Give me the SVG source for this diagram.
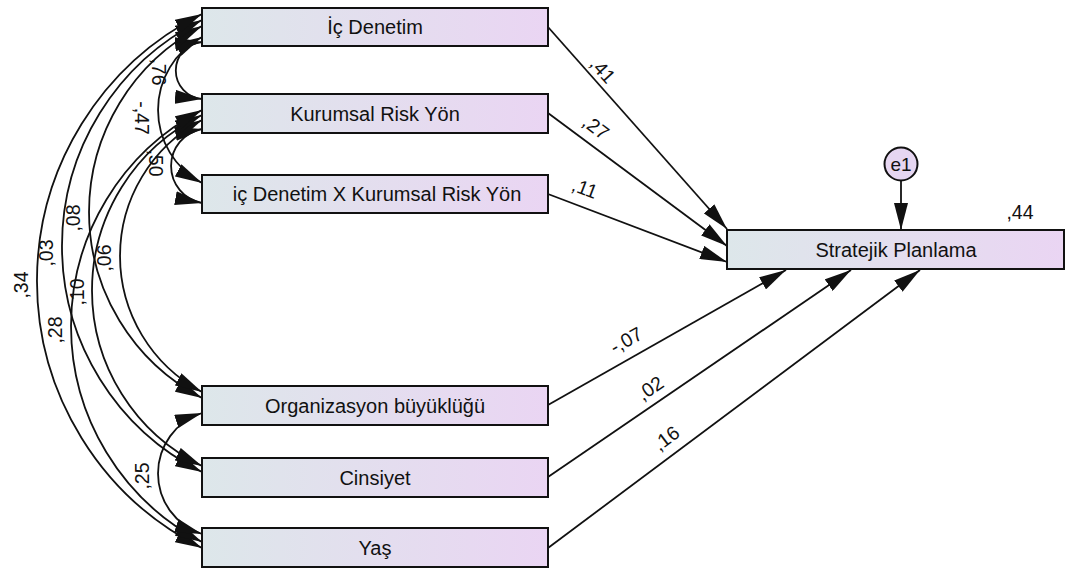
<svg xmlns="http://www.w3.org/2000/svg" width="1068" height="574" viewBox="0 0 1068 574">
  <style>
    .box { stroke: #111; stroke-width: 2; fill: url(#boxfill); }
    .lbl { font-family: "Liberation Sans", Arial, sans-serif; font-size: 20px; fill: #111; text-anchor: middle; }
    .coef { font-family: "Liberation Sans", Arial, sans-serif; font-size: 19.5px; fill: #111; text-anchor: middle; }
    .path { stroke: #111; stroke-width: 1.8; fill: none; marker-end: url(#ah); }
    .cov { stroke: #111; stroke-width: 1.8; fill: none; marker-start: url(#ah); marker-end: url(#ah); }
  </style>
  <defs>
    <linearGradient id="boxfill" x1="0" y1="0" x2="1" y2="0">
      <stop offset="0" stop-color="#dde7ea"/>
      <stop offset="1" stop-color="#ead5f3"/>
    </linearGradient>
    <marker id="ah" viewBox="0 0 27 14" markerWidth="27" markerHeight="14" refX="27" refY="7" orient="auto-start-reverse" markerUnits="userSpaceOnUse">
      <path d="M0,0 L27,7 L0,14 z" fill="#111"/>
    </marker>
  </defs>

  <rect width="1068" height="574" fill="#fff"/>

  <!-- connectors: regression paths and covariance arcs -->
  <g id="connectors">
    <line class="path" x1="548" y1="27" x2="727" y2="229"/>
    <line class="path" x1="548" y1="113" x2="727" y2="246"/>
    <line class="path" x1="548" y1="194" x2="727" y2="262"/>
    <line class="path" x1="548" y1="405" x2="786" y2="270"/>
    <line class="path" x1="548" y1="477" x2="851" y2="270"/>
    <line class="path" x1="548" y1="548" x2="920" y2="270"/>
    <line class="path" x1="901" y1="181" x2="901" y2="230"/>

    <path class="cov" d="M202,42 A28.6,28.6 0 0 0 202,99"/>
    <path class="cov" d="M202,37 A82.6,82.6 0 0 0 202,183"/>
    <path class="cov" d="M202,129 A37.6,37.6 0 0 0 202,203"/>
    <path class="cov" d="M202,26 A209.6,209.6 0 0 0 202,398"/>
    <path class="cov" d="M202,20 A252.4,252.4 0 0 0 202,472"/>
    <path class="cov" d="M202,14 A298.5,298.5 0 0 0 202,548"/>
    <path class="cov" d="M202,120 A153.8,153.8 0 0 0 202,392"/>
    <path class="cov" d="M202,115 A195,195 0 0 0 202,466"/>
    <path class="cov" d="M202,110 A243.6,243.6 0 0 0 202,542"/>
    <path class="cov" d="M202,413 A63.6,63.6 0 0 0 202,534"/>

    <!-- path coefficients -->
    <text class="coef" transform="translate(603,70) rotate(48)" y="7">,41</text>
    <text class="coef" transform="translate(596,127) rotate(37)" y="7">,27</text>
    <text class="coef" transform="translate(585,188) rotate(21)" y="7">,11</text>
    <text class="coef" transform="translate(626,340) rotate(-29.5)" y="7">-,07</text>
    <text class="coef" transform="translate(650,388) rotate(-34)" y="7">,02</text>
    <text class="coef" transform="translate(666,438) rotate(-37)" y="7">,16</text>

    <!-- covariance coefficients -->
    <text class="coef" transform="translate(159,72) rotate(90)" y="7">,76</text>
    <text class="coef" transform="translate(142,118) rotate(90)" y="7">-,47</text>
    <text class="coef" transform="translate(156,163) rotate(90)" y="7">,50</text>
    <text class="coef" transform="translate(21,285) rotate(-90)" y="7">,34</text>
    <text class="coef" transform="translate(46,253) rotate(-90)" y="7">,03</text>
    <text class="coef" transform="translate(73,218) rotate(-90)" y="7">,08</text>
    <text class="coef" transform="translate(55,330) rotate(-90)" y="7">,28</text>
    <text class="coef" transform="translate(77,292) rotate(-90)" y="7">,10</text>
    <text class="coef" transform="translate(104,258) rotate(-90)" y="7">,06</text>
    <text class="coef" transform="translate(142,476) rotate(-90)" y="7">,25</text>
  </g>

  <g id="ic-denetim">
    <rect class="box" x="202" y="8" width="346" height="38"/>
    <text class="lbl" x="375" y="34">İç Denetim</text>
  </g>
  <g id="kurumsal-risk">
    <rect class="box" x="202" y="94" width="346" height="39"/>
    <text class="lbl" x="375" y="121">Kurumsal Risk Yön</text>
  </g>
  <g id="etkilesim">
    <rect class="box" x="202" y="175" width="346" height="38"/>
    <text class="lbl" x="377" y="201">iç Denetim X Kurumsal Risk Yön</text>
  </g>
  <g id="organizasyon">
    <rect class="box" x="202" y="386" width="346" height="39"/>
    <text class="lbl" x="375" y="413">Organizasyon büyüklüğü</text>
  </g>
  <g id="cinsiyet">
    <rect class="box" x="202" y="458" width="346" height="39"/>
    <text class="lbl" x="375" y="485">Cinsiyet</text>
  </g>
  <g id="yas">
    <rect class="box" x="202" y="528" width="346" height="39"/>
    <text class="lbl" x="375" y="555">Yaş</text>
  </g>
  <g id="stratejik-planlama">
    <rect class="box" x="727" y="230" width="337" height="39"/>
    <text class="lbl" x="896" y="257">Stratejik Planlama</text>
    <text class="coef" x="1020" y="219">,44</text>
  </g>
  <g id="e1">
    <circle cx="901" cy="164" r="16.5" fill="#e6d6f1" stroke="#111" stroke-width="2"/>
    <text class="lbl" x="901" y="171" style="font-size:19px">e1</text>
  </g>
</svg>
